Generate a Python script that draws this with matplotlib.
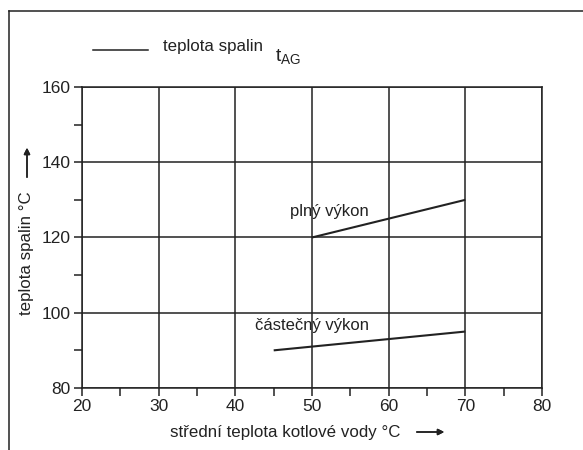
import matplotlib
matplotlib.use("Agg")
import matplotlib.pyplot as plt
from matplotlib.lines import Line2D
from matplotlib.ticker import MultipleLocator

plt.rcParams['font.family'] = ['Liberation Sans', 'DejaVu Sans']

# teplota spalin podle střední teploty kotlové vody
plny_x = [50, 70]
plny_y = [120, 130]
castecny_x = [45, 70]
castecny_y = [90, 95]

x_ticks = [20, 30, 40, 50, 60, 70, 80]
y_ticks = [80, 100, 120, 140, 160]

barva = '#222222'

fig = plt.figure(figsize=(5.83, 4.5), dpi=100)
ax = fig.add_axes([0.1407, 0.1378, 0.789, 0.669])

ax.plot(plny_x, plny_y, color=barva, lw=1.5, solid_capstyle='butt')
ax.plot(castecny_x, castecny_y, color=barva, lw=1.5, solid_capstyle='butt')

ax.set_xlim(20, 80)
ax.set_ylim(80, 160)
ax.set_xticks(x_ticks)
ax.set_yticks(y_ticks)
ax.xaxis.set_minor_locator(MultipleLocator(5))
ax.yaxis.set_minor_locator(MultipleLocator(10))
ax.tick_params(which='both', direction='out', length=6, width=1.1, color=barva,
               labelsize=12.5, labelcolor='#222222', pad=2)
ax.grid(True, which='major', color=barva, lw=1.1)
for s in ax.spines.values():
    s.set_color(barva)
    s.set_linewidth(1.1)

ax.text(47.1, 127.0, 'plný výkon', fontsize=12, color='#222222', va='center')
ax.text(42.6, 96.7, 'částečný výkon', fontsize=12, color='#222222', va='center')

# popisky os se šipkami
fig.text(170 / 583, 1 - 432 / 450, 'střední teplota kotlové vody °C', fontsize=12.2,
         color='#222222', va='center', ha='left')
fig.add_artist(plt.annotate('', xy=(447 / 583, 1 - 432 / 450), xytext=(414 / 583, 1 - 432 / 450),
                            xycoords='figure fraction',
                            arrowprops=dict(arrowstyle='-|>', color=barva, lw=1.1,
                                            mutation_scale=9)))
fig.text(27 / 583, 1 - 253 / 450, 'teplota spalin °C', fontsize=12.2, color='#222222',
         rotation=90, va='center', ha='center')
fig.add_artist(plt.annotate('', xy=(27 / 583, 1 - 145 / 450), xytext=(27 / 583, 1 - 180 / 450),
                            xycoords='figure fraction',
                            arrowprops=dict(arrowstyle='-|>', color=barva, lw=1.1,
                                            mutation_scale=9)))

# legenda
fig.add_artist(Line2D([93 / 583, 148 / 583], [1 - 50 / 450, 1 - 50 / 450], color=barva, lw=1.1))
fig.text(163 / 583, 1 - 46 / 450, 'teplota spalin', fontsize=12.2, color='#222222',
         va='center', ha='left')
fig.text(275 / 583, 1 - 56 / 450, '$\\mathregular{t_{AG}}$', fontsize=14, color='#222222',
         va='center', ha='left')

# rámeček kolem obrázku
fig.add_artist(Line2D([9 / 583, 1], [1 - 11 / 450, 1 - 11 / 450], color=barva, lw=1.1))
fig.add_artist(Line2D([9 / 583, 9 / 583], [0, 1 - 11 / 450], color=barva, lw=1.1))

fig.savefig('out.png', dpi=100)
